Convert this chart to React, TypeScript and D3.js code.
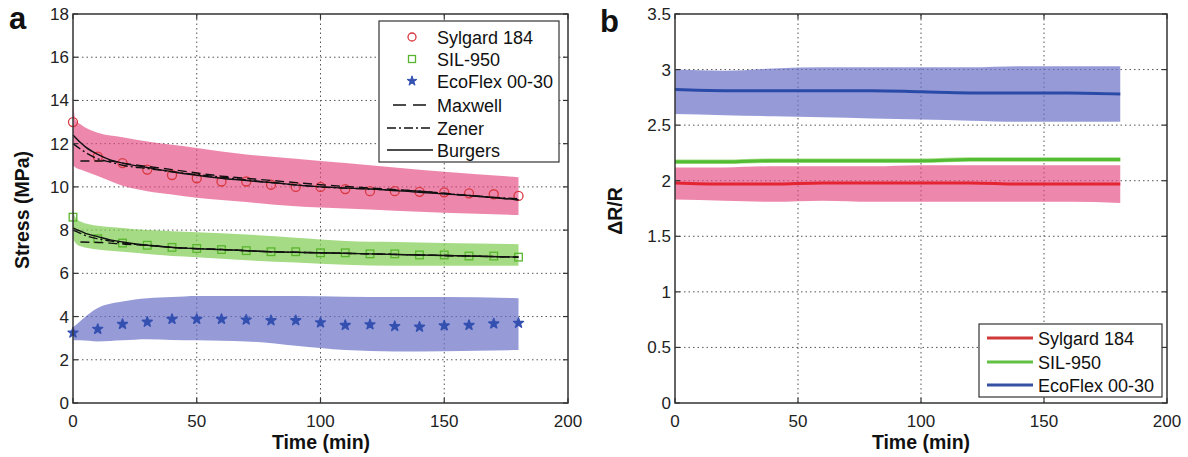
import React from "react";
import * as d3 from "d3";

// ---------- Panel a data ----------
const markerTime = [0, 10, 20, 30, 40, 50, 60, 70, 80, 90, 100, 110, 120, 130, 140, 150, 160, 170, 180];
const sylgardStress = [13.0, 11.4, 11.1, 10.8, 10.55, 10.4, 10.25, 10.25, 10.1, 10.0, 10.0, 9.9, 9.8, 9.8, 9.77, 9.75, 9.7, 9.66, 9.58];
const silStress = [8.6, 7.6, 7.4, 7.3, 7.2, 7.15, 7.1, 7.05, 7.0, 7.0, 6.95, 6.95, 6.9, 6.9, 6.85, 6.85, 6.8, 6.8, 6.75];
const ecoStress = [3.25, 3.42, 3.65, 3.75, 3.88, 3.88, 3.88, 3.85, 3.82, 3.82, 3.72, 3.6, 3.63, 3.55, 3.52, 3.58, 3.6, 3.67, 3.7];

const bandTime = [0, 1, 3, 10, 20, 30, 40, 50, 70, 90, 110, 130, 150, 180];
const sylgardUpper = [14.0, 13.1, 12.9, 12.5, 12.3, 12.1, 11.95, 11.8, 11.5, 11.3, 11.1, 10.9, 10.7, 10.45];
const sylgardLower = [11.0, 10.9, 10.8, 10.5, 10.05, 9.8, 9.65, 9.5, 9.3, 9.1, 9.0, 8.9, 8.8, 8.7];
const silUpper = [8.9, 8.6, 8.4, 8.2, 8.1, 8.0, 7.95, 7.9, 7.8, 7.65, 7.5, 7.45, 7.4, 7.35];
const silLower = [7.6, 7.4, 7.25, 7.1, 7.0, 6.9, 6.8, 6.75, 6.6, 6.5, 6.4, 6.35, 6.35, 6.35];
const ecoUpper = [3.5, 3.6, 3.8, 4.4, 4.7, 4.85, 4.9, 4.95, 4.95, 4.95, 4.92, 4.9, 4.9, 4.85];
const ecoLower = [2.9, 2.9, 2.9, 2.85, 2.9, 2.95, 2.92, 2.9, 2.85, 2.65, 2.45, 2.38, 2.4, 2.45];

const maxwellTime = [3, 15, 20, 30, 40, 60, 80, 100, 120, 140, 160, 180];
const sylgardMaxwell = [11.2, 11.2, 11.1, 10.95, 10.8, 10.5, 10.3, 10.1, 9.95, 9.8, 9.6, 9.4];
const silMaxwell = [7.45, 7.4, 7.35, 7.3, 7.2, 7.1, 7.0, 6.95, 6.9, 6.85, 6.8, 6.75];

const modelTime = [0, 3, 5, 10, 15, 20, 30, 40, 60, 80, 100, 120, 140, 160, 180];
const sylgardZener = [12.0, 11.75, 11.6, 11.3, 11.15, 11.0, 10.85, 10.7, 10.45, 10.2, 10.0, 9.9, 9.8, 9.6, 9.45];
const sylgardBurgers = [12.4, 12.05, 11.85, 11.5, 11.25, 11.1, 10.9, 10.7, 10.4, 10.2, 10.0, 9.9, 9.75, 9.6, 9.4];
const silZener = [8.0, 7.85, 7.75, 7.6, 7.5, 7.4, 7.3, 7.2, 7.1, 7.0, 6.95, 6.9, 6.85, 6.8, 6.75];
const silBurgers = [8.1, 7.95, 7.85, 7.7, 7.55, 7.45, 7.3, 7.2, 7.1, 7.0, 6.95, 6.9, 6.85, 6.8, 6.75];

const xTicks = [0, 50, 100, 150, 200];
const yTicksA = [0, 2, 4, 6, 8, 10, 12, 14, 16, 18];
const yTicksB = [0, 0.5, 1, 1.5, 2, 2.5, 3, 3.5];

// ---------- Panel b data ----------
const bTime = [0, 20, 40, 60, 80, 100, 120, 140, 160, 181];
const sylgardDR = [1.98, 1.97, 1.97, 1.98, 1.98, 1.98, 1.98, 1.97, 1.97, 1.97];
const sylgardDRUpper = [2.12, 2.12, 2.13, 2.13, 2.13, 2.14, 2.14, 2.14, 2.14, 2.14];
const sylgardDRLower = [1.83, 1.82, 1.81, 1.82, 1.81, 1.81, 1.81, 1.81, 1.81, 1.8];
const silDR = [2.17, 2.17, 2.18, 2.18, 2.18, 2.18, 2.19, 2.19, 2.19, 2.19];
const silDRUpper = [2.19, 2.19, 2.2, 2.2, 2.2, 2.2, 2.21, 2.21, 2.21, 2.21];
const silDRLower = [2.15, 2.15, 2.16, 2.16, 2.16, 2.16, 2.17, 2.17, 2.17, 2.17];
const ecoDR = [2.82, 2.81, 2.81, 2.81, 2.81, 2.8, 2.79, 2.79, 2.79, 2.78];
const ecoDRUpper = [3.0, 2.99, 3.01, 3.02, 3.02, 3.02, 3.02, 3.03, 3.03, 3.03];
const ecoDRLower = [2.6, 2.59, 2.58, 2.57, 2.56, 2.55, 2.54, 2.53, 2.53, 2.53];

const legendA = ["Sylgard 184", "SIL-950", "EcoFlex 00-30", "Maxwell", "Zener", "Burgers"];
const legendB = ["Sylgard 184", "SIL-950", "EcoFlex 00-30"];

const FONT = "'Liberation Sans', Arial, Helvetica, sans-serif";
const PINK = "#e4477f";
const GREEN = "#7fcc50";
const BLUE = "#6a70c8";

type Scale = d3.ScaleLinear<number, number>;

function Grid({ x, y, yTicks }: { x: Scale; y: Scale; yTicks: number[] }) {
  const [x0, x1] = x.range();
  const [y0, y1] = y.range();
  return (
    <g>
      {xTicks.slice(1, -1).map((t) => (
        <line key={"gx" + t} x1={x(t)} x2={x(t)} y1={y0} y2={y1} stroke="#555" strokeWidth={1} strokeDasharray="1.5,3" />
      ))}
      {yTicks.slice(1, -1).map((t) => (
        <line key={"gy" + t} x1={x0} x2={x1} y1={y(t)} y2={y(t)} stroke="#555" strokeWidth={1} strokeDasharray="1.5,3" />
      ))}
    </g>
  );
}

function Axes({ x, y, yTicks }: { x: Scale; y: Scale; yTicks: number[] }) {
  const [x0, x1] = x.range();
  const [y0, y1] = y.range();
  const tl = 5;
  return (
    <g>
      <rect x={x0} y={y1} width={x1 - x0} height={y0 - y1} fill="none" stroke="#333" strokeWidth={1.5} />
      {xTicks.map((t) => (
        <g key={"tx" + t}>
          <line x1={x(t)} x2={x(t)} y1={y0} y2={y0 - tl} stroke="#333" strokeWidth={1.2} />
          <line x1={x(t)} x2={x(t)} y1={y1} y2={y1 + tl} stroke="#333" strokeWidth={1.2} />
          <text x={x(t)} y={y0 + 24} textAnchor="middle" fontSize={17} fontFamily={FONT} fill="#222">
            {t}
          </text>
        </g>
      ))}
      {yTicks.map((t) => (
        <g key={"ty" + t}>
          <line x1={x0} x2={x0 + tl} y1={y(t)} y2={y(t)} stroke="#333" strokeWidth={1.2} />
          <line x1={x1} x2={x1 - tl} y1={y(t)} y2={y(t)} stroke="#333" strokeWidth={1.2} />
          <text x={x0 - 4} y={y(t) + 6} textAnchor="end" fontSize={17} fontFamily={FONT} fill="#222">
            {t}
          </text>
        </g>
      ))}
    </g>
  );
}

function bandPath(x: Scale, y: Scale, t: number[], lo: number[], hi: number[]) {
  const area = d3
    .area<number>()
    .x((_, i) => x(t[i]))
    .y0((_, i) => y(lo[i]))
    .y1((_, i) => y(hi[i]))
    .curve(d3.curveMonotoneX);
  return area(t) || "";
}

function linePath(x: Scale, y: Scale, t: number[], v: number[]) {
  const line = d3
    .line<number>()
    .x((_, i) => x(t[i]))
    .y((_, i) => y(v[i]))
    .curve(d3.curveMonotoneX);
  return line(t) || "";
}

const starPath = d3.symbol().type(d3.symbolStar).size(30)() || "";
const DASH = "9,5";
const DASHDOT = "9,3,2,3";

export default function App() {
  const xa = d3.scaleLinear().domain([0, 200]).range([73, 568]);
  const ya = d3.scaleLinear().domain([0, 18]).range([403, 14]);
  const xb = d3.scaleLinear().domain([0, 200]).range([675, 1167]);
  const yb = d3.scaleLinear().domain([0, 3.5]).range([403, 14]);

  const legARow = [37, 59, 81, 105, 128, 150];
  const legBRow = [338, 362, 385];

  return (
    <svg width={1188} height={457} style={{ position: "absolute", left: 0, top: 0, background: "#fff" }}>
      <rect x={0} y={0} width={1188} height={457} fill="#fff" />
      {/* ===== Panel a ===== */}
      <Grid x={xa} y={ya} yTicks={yTicksA} />
      <path d={bandPath(xa, ya, bandTime, sylgardLower, sylgardUpper)} fill={PINK} fillOpacity={0.65} />
      <path d={bandPath(xa, ya, bandTime, silLower, silUpper)} fill={GREEN} fillOpacity={0.7} />
      <path d={bandPath(xa, ya, bandTime, ecoLower, ecoUpper)} fill={BLUE} fillOpacity={0.7} />

      {markerTime.map((t, i) => (
        <circle key={"sc" + i} cx={xa(t)} cy={ya(sylgardStress[i])} r={4.5} fill="none" stroke="#d8383f" strokeWidth={1.3} />
      ))}
      {markerTime.map((t, i) => (
        <rect key={"ss" + i} x={xa(t) - 3.8} y={ya(silStress[i]) - 3.8} width={7.6} height={7.6} fill="none" stroke="#5ab52e" strokeWidth={1.3} />
      ))}
      {markerTime.map((t, i) => (
        <path key={"es" + i} d={starPath} transform={`translate(${xa(t)},${ya(ecoStress[i])})`} fill="#3450b0" stroke="#3450b0" strokeWidth={1.5} strokeLinejoin="round" />
      ))}

      <path d={linePath(xa, ya, maxwellTime, sylgardMaxwell)} fill="none" stroke="#111" strokeWidth={1.4} strokeDasharray={DASH} />
      <path d={linePath(xa, ya, modelTime, sylgardZener)} fill="none" stroke="#111" strokeWidth={1.4} strokeDasharray={DASHDOT} />
      <path d={linePath(xa, ya, modelTime, sylgardBurgers)} fill="none" stroke="#111" strokeWidth={1.4} />
      <path d={linePath(xa, ya, maxwellTime, silMaxwell)} fill="none" stroke="#111" strokeWidth={1.4} strokeDasharray={DASH} />
      <path d={linePath(xa, ya, modelTime, silZener)} fill="none" stroke="#111" strokeWidth={1.4} strokeDasharray={DASHDOT} />
      <path d={linePath(xa, ya, modelTime, silBurgers)} fill="none" stroke="#111" strokeWidth={1.4} />

      <Axes x={xa} y={ya} yTicks={yTicksA} />

      {/* legend a */}
      <rect x={379} y={21} width={180} height={141} fill="#fff" stroke="#333" strokeWidth={1.2} />
      <circle cx={412} cy={legARow[0]} r={4} fill="none" stroke="#d8383f" strokeWidth={1.3} />
      <rect x={408.5} y={legARow[1] - 3.5} width={7} height={7} fill="none" stroke="#5ab52e" strokeWidth={1.3} />
      <path d={starPath} transform={`translate(412,${legARow[2]})`} fill="#3450b0" stroke="#3450b0" strokeWidth={1} />
      <line x1={393} x2={433} y1={legARow[3]} y2={legARow[3]} stroke="#111" strokeWidth={1.5} strokeDasharray="13,7" />
      <line x1={387} x2={433} y1={legARow[4]} y2={legARow[4]} stroke="#111" strokeWidth={1.5} strokeDasharray={DASHDOT} />
      <line x1={387} x2={433} y1={legARow[5]} y2={legARow[5]} stroke="#111" strokeWidth={1.5} />
      {legendA.map((s, i) => (
        <text key={"la" + i} x={437} y={legARow[i] + 6.5} fontSize={18} fontFamily={FONT} fill="#111">
          {s}
        </text>
      ))}

      <text x={9} y={29} fontSize={31} fontWeight="bold" fontFamily={FONT} fill="#111">a</text>
      <text x={321} y={449} textAnchor="middle" fontSize={19.5} fontWeight="bold" fontFamily={FONT} fill="#111">Time (min)</text>
      <text transform="translate(29,210) rotate(-90)" textAnchor="middle" fontSize={19.5} fontWeight="bold" fontFamily={FONT} fill="#111">Stress (MPa)</text>

      {/* ===== Panel b ===== */}
      <Grid x={xb} y={yb} yTicks={yTicksB} />
      <path d={bandPath(xb, yb, bTime, ecoDRLower, ecoDRUpper)} fill={BLUE} fillOpacity={0.7} />
      <path d={bandPath(xb, yb, bTime, sylgardDRLower, sylgardDRUpper)} fill={PINK} fillOpacity={0.65} />
      <path d={bandPath(xb, yb, bTime, silDRLower, silDRUpper)} fill={GREEN} fillOpacity={0.7} />
      <path d={linePath(xb, yb, bTime, ecoDR)} fill="none" stroke="#2a4aa8" strokeWidth={3} />
      <path d={linePath(xb, yb, bTime, silDR)} fill="none" stroke="#52bd34" strokeWidth={3} />
      <path d={linePath(xb, yb, bTime, sylgardDR)} fill="none" stroke="#e42430" strokeWidth={3} />
      <Axes x={xb} y={yb} yTicks={yTicksB} />

      {/* legend b */}
      <rect x={979} y={324} width={183} height={73} fill="#fff" stroke="#333" strokeWidth={1.2} />
      {["#d03a3a", "#62c044", "#3650a4"].map((c, i) => (
        <line key={"lbl" + i} x1={987} x2={1033} y1={legBRow[i]} y2={legBRow[i]} stroke={c} strokeWidth={3} />
      ))}
      {legendB.map((s, i) => (
        <text key={"lb" + i} x={1038} y={legBRow[i] + 6.5} fontSize={18} fontFamily={FONT} fill="#111">
          {s}
        </text>
      ))}

      <text x={600} y={32} fontSize={31} fontWeight="bold" fontFamily={FONT} fill="#111">b</text>
      <text x={921} y={449} textAnchor="middle" fontSize={19.5} fontWeight="bold" fontFamily={FONT} fill="#111">Time (min)</text>
      <text transform="translate(622,211) rotate(-90)" textAnchor="middle" fontSize={19.5} fontWeight="bold" fontFamily={FONT} fill="#111">ΔR/R</text>
    </svg>
  );
}
